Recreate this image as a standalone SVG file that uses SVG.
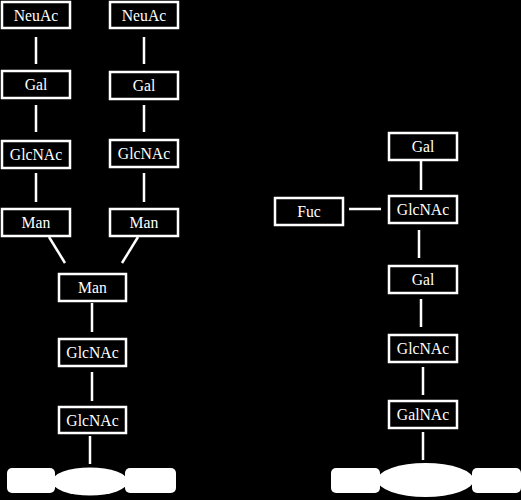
<svg xmlns="http://www.w3.org/2000/svg" width="521" height="500" viewBox="0 0 521 500">
<style>
.box rect{fill:#000;stroke:#fff;stroke-width:2.5}
.box text{fill:#fff;font-family:"Liberation Serif","Times New Roman",serif;font-size:15.7px;text-anchor:middle}
#connectors line{stroke:#fff;stroke-width:2.5}
.solid{fill:#fff}
</style>
<rect x="0" y="0" width="521" height="500" fill="#000"/>
<g id="connectors">
<line x1="36" y1="37" x2="36" y2="64"/>
<line x1="36" y1="105" x2="36" y2="132"/>
<line x1="36" y1="173" x2="36" y2="202"/>
<line x1="144" y1="37" x2="144" y2="64"/>
<line x1="144" y1="105" x2="144" y2="132"/>
<line x1="144" y1="173" x2="144" y2="202"/>
<line x1="49" y1="237" x2="65" y2="263"/>
<line x1="138" y1="237" x2="122" y2="263"/>
<line x1="92" y1="303" x2="92" y2="332"/>
<line x1="92" y1="372" x2="92" y2="401"/>
<line x1="90" y1="436" x2="90" y2="464"/>
<line x1="421" y1="161" x2="421" y2="190"/>
<line x1="349" y1="209" x2="381" y2="209"/>
<line x1="419" y1="230" x2="419" y2="258"/>
<line x1="421" y1="299" x2="421" y2="327"/>
<line x1="423" y1="367" x2="423" y2="395"/>
<line x1="423" y1="432" x2="423" y2="460"/>
</g>
<g id="a-neuac" class="box"><rect x="2" y="2" width="68" height="26"/><text x="36" y="20.5">NeuAc</text></g>
<g id="a-gal" class="box"><rect x="2" y="71" width="68" height="27"/><text x="36" y="90">Gal</text></g>
<g id="a-glcnac" class="box"><rect x="2" y="141" width="68" height="27"/><text x="36" y="160">GlcNAc</text></g>
<g id="a-man" class="box"><rect x="2" y="209" width="68" height="27"/><text x="36" y="228">Man</text></g>
<g id="b-neuac" class="box"><rect x="110" y="2" width="68" height="26"/><text x="144" y="20.5">NeuAc</text></g>
<g id="b-gal" class="box"><rect x="110" y="72" width="68" height="27"/><text x="144" y="91">Gal</text></g>
<g id="b-glcnac" class="box"><rect x="110" y="140" width="68" height="27"/><text x="144" y="159">GlcNAc</text></g>
<g id="b-man" class="box"><rect x="110" y="209" width="68" height="27"/><text x="144" y="228">Man</text></g>
<g id="c-man" class="box"><rect x="59" y="274" width="67" height="27"/><text x="92.5" y="293">Man</text></g>
<g id="c-glcnac1" class="box"><rect x="59" y="339" width="67" height="27"/><text x="92.5" y="358">GlcNAc</text></g>
<g id="c-glcnac2" class="box"><rect x="59" y="407" width="67" height="26"/><text x="92.5" y="425.5">GlcNAc</text></g>
<g id="r-gal1" class="box"><rect x="389" y="133" width="68" height="27"/><text x="423" y="152">Gal</text></g>
<g id="r-fuc" class="box"><rect x="275" y="198" width="68" height="27"/><text x="309" y="217">Fuc</text></g>
<g id="r-glcnac1" class="box"><rect x="389" y="196" width="68" height="27"/><text x="423" y="215">GlcNAc</text></g>
<g id="r-gal2" class="box"><rect x="389" y="266" width="68" height="27"/><text x="423" y="285">Gal</text></g>
<g id="r-glcnac2" class="box"><rect x="389" y="335" width="68" height="27"/><text x="423" y="354">GlcNAc</text></g>
<g id="r-galnac" class="box"><rect x="389" y="401" width="68" height="27"/><text x="423" y="420">GalNAc</text></g>
<g id="protein-left">
<rect class="solid" x="7" y="468" width="48" height="25" rx="5"/>
<ellipse class="solid" cx="90" cy="481.5" rx="38" ry="14"/>
<rect class="solid" x="125" y="468" width="51" height="25" rx="5"/>
</g>
<g id="protein-right">
<rect class="solid" x="331" y="468" width="49" height="25" rx="5"/>
<ellipse class="solid" cx="425.5" cy="480" rx="48" ry="17"/>
<rect class="solid" x="472" y="468" width="49" height="25" rx="5"/>
</g>
</svg>
